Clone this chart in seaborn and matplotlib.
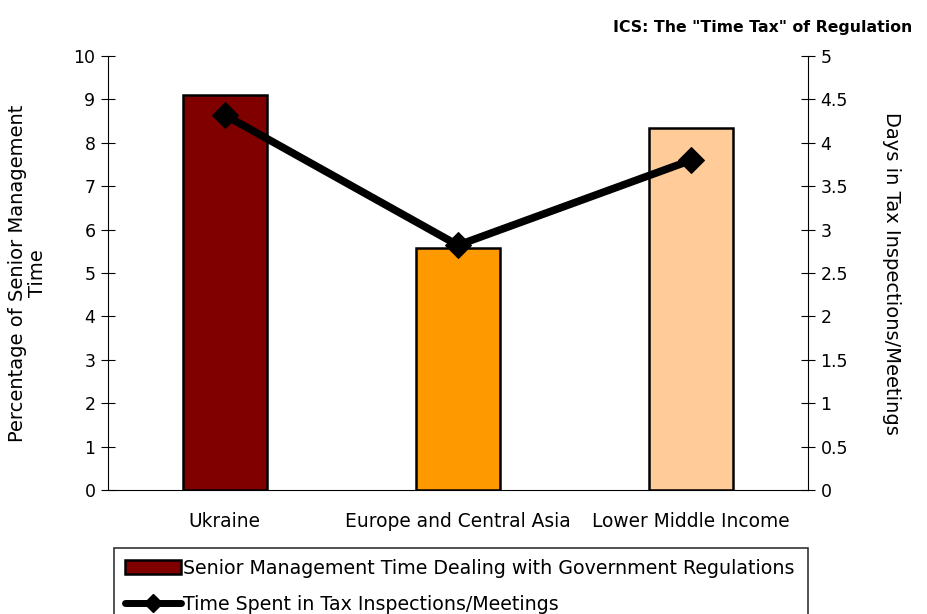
import matplotlib
matplotlib.use("Agg")
import matplotlib.pyplot as plt
import seaborn as sns
import pandas as pd
import numpy as np
from matplotlib.patches import Patch
from matplotlib.lines import Line2D

categories = ["Ukraine", "Europe and Central Asia", "Lower Middle Income"]
mgmt_time = [9.1, 5.58, 8.35]
tax_days = [4.32, 2.82, 3.80]
bar_colors = ["#800000", "#FF9900", "#FFCC99"]
left_ticks = list(range(0, 11))
right_ticks = [0, 0.5, 1, 1.5, 2, 2.5, 3, 3.5, 4, 4.5, 5]
right_ticklabels = ["0", "0.5", "1", "1.5", "2", "2.5", "3", "3.5", "4", "4.5", "5"]

sns.set_style("white")
plt.rcParams["font.family"] = ["DejaVu Sans"]
plt.rcParams["text.color"] = "black"
plt.rcParams["axes.labelcolor"] = "black"
plt.rcParams["xtick.color"] = "black"
plt.rcParams["ytick.color"] = "black"

FS = 12.5
CAT_FS = 13.4
LAB_FS = 14
LEG_FS = 13.7

fig = plt.figure(figsize=(9.27, 6.14), dpi=100)
ax = fig.add_axes([0.1165, 0.2020, 0.755, 0.7068])

df = pd.DataFrame({"cat": categories, "val": mgmt_time})
sns.barplot(data=df, x="cat", y="val", hue="cat", palette=bar_colors,
            width=0.36, edgecolor="black", linewidth=1.8, legend=False, ax=ax,
            saturation=1)

ax.set_xlim(-0.5, 2.5)
ax.set_ylim(0, 10)
ax.set_yticks(left_ticks)
ax.set_yticklabels([str(t) for t in left_ticks], fontsize=FS)
ax.set_xticks([-0.5, 0.5, 1.5, 2.5])
ax.set_xticklabels([])
ax.set_xticks(range(len(categories)), minor=True)
ax.set_xticklabels(categories, minor=True, fontsize=CAT_FS)
ax.tick_params(axis="x", which="minor", length=0, pad=16)
ax.tick_params(axis="x", which="major", direction="inout", length=10, width=0.8, color="black")
ax.tick_params(axis="y", direction="inout", length=10, width=0.8, color="black", labelsize=FS, pad=4)
ax.set_xlabel("")
ax.set_ylabel("Percentage of Senior Management\nTime", fontsize=LAB_FS, labelpad=19,
              linespacing=1.05)
for s in ["left", "bottom"]:
    ax.spines[s].set_color("black")
    ax.spines[s].set_linewidth(0.8)
ax.spines["top"].set_visible(False)
ax.spines["right"].set_visible(False)

ax2 = ax.twinx()
line_df = pd.DataFrame({"x": np.arange(len(categories)), "y": tax_days})
sns.lineplot(data=line_df, x="x", y="y", color="black", linewidth=5.5,
             marker="D", markersize=13, markeredgecolor="black", ax=ax2)
ax2.set_ylim(0, 5)
ax2.set_yticks(right_ticks)
ax2.set_yticklabels(right_ticklabels, fontsize=FS)
ax2.tick_params(axis="y", direction="inout", length=10, width=0.8, color="black", labelsize=FS, pad=4)
ax2.set_ylabel("Days in Tax Inspections/Meetings", fontsize=LAB_FS, rotation=270, labelpad=38)
ax2.set_xlabel("")
ax2.spines["right"].set_visible(True)
ax2.spines["right"].set_color("black")
ax2.spines["right"].set_linewidth(0.8)
for s in ["top", "left", "bottom"]:
    ax2.spines[s].set_visible(False)
ax2.set_xlim(-0.5, 2.5)

fig.text(0.984, 0.955, 'ICS: The "Time Tax" of Regulation', ha="right", va="center",
         fontsize=11.3, fontweight="bold")

handles = [
    Patch(facecolor=bar_colors[0], edgecolor="black", linewidth=1.8,
          label="Senior Management Time Dealing with Government Regulations"),
    Line2D([0], [0], color="black", linewidth=5, marker="D", markersize=9,
           label="Time Spent in Tax Inspections/Meetings"),
]
leg = fig.legend(handles=handles, loc="upper left",
                 bbox_to_anchor=(0.123, 0.0, 0.749, 0.108), mode="expand",
                 fontsize=LEG_FS, frameon=True, fancybox=False, edgecolor="black",
                 handlelength=2.9, handleheight=0.75, handletextpad=0.15,
                 borderpad=0.6, labelspacing=0.9, borderaxespad=0)
leg.get_frame().set_linewidth(1.2)

fig.savefig("out.png", dpi=100)
